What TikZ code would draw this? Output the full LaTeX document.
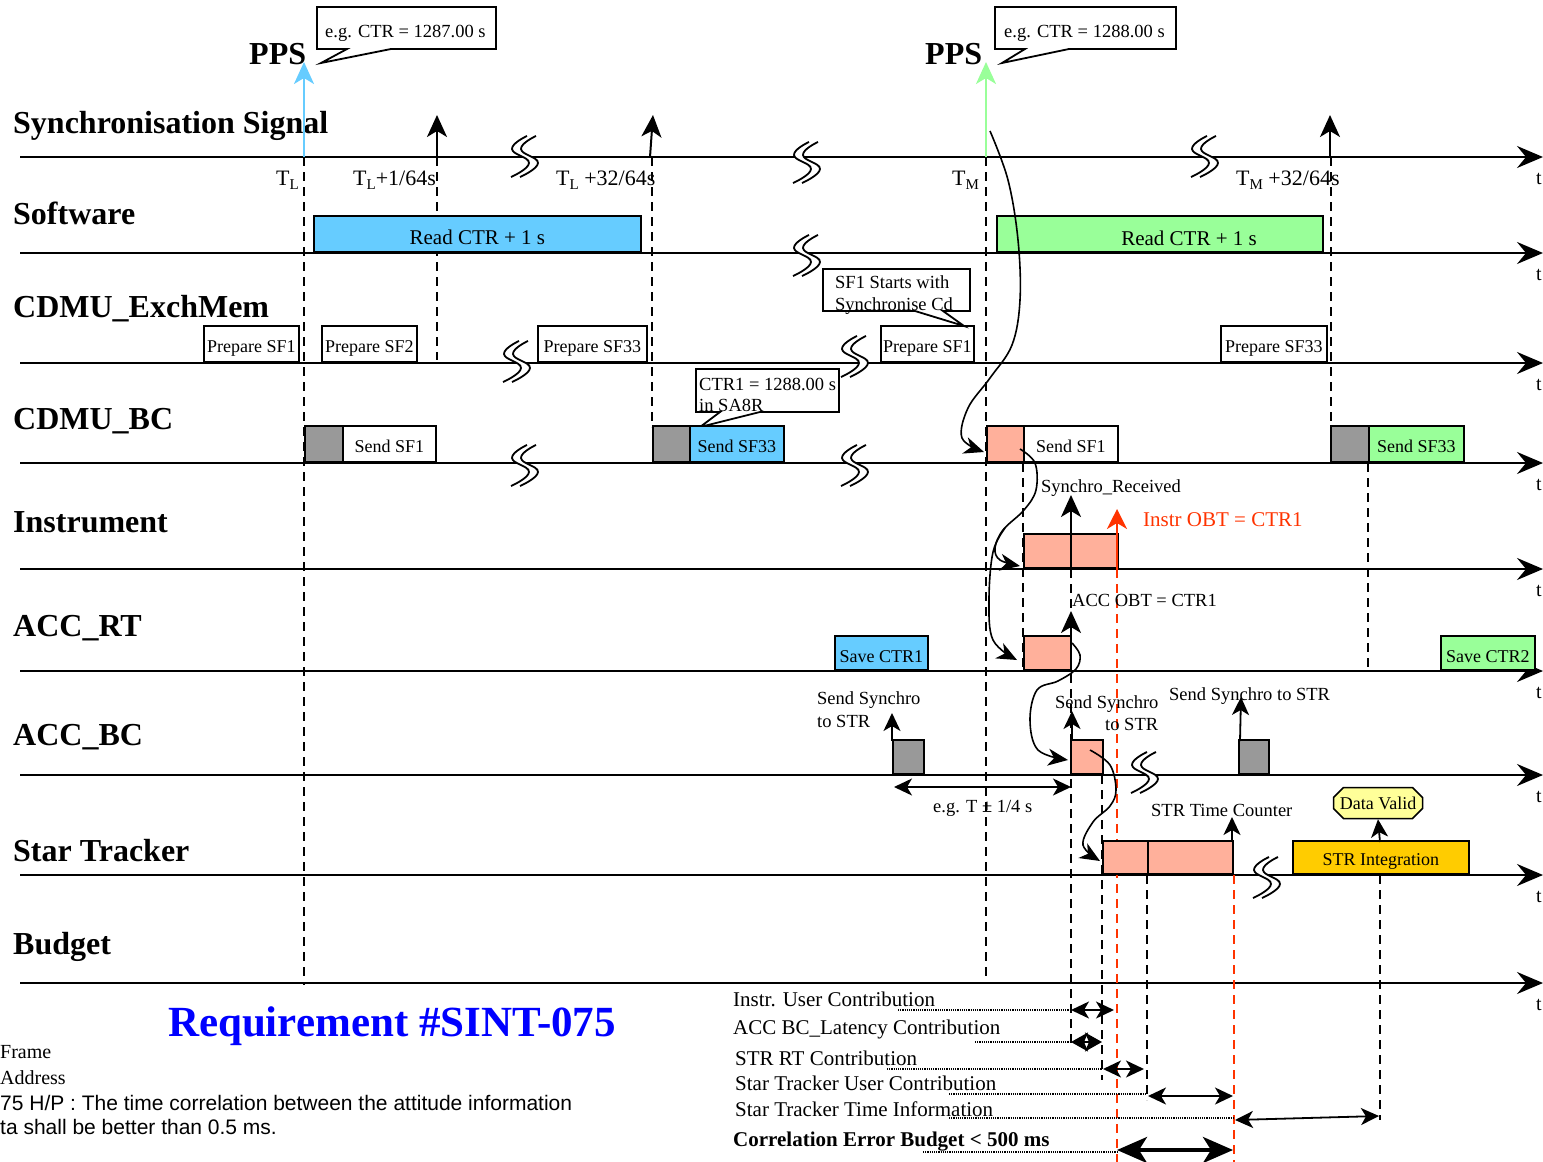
\documentclass[tikz,border=0pt]{standalone}
\usepackage{fontspec}
\setmainfont{Liberation Serif}
\newfontfamily\arialf{Liberation Sans}
\usetikzlibrary{arrows.meta,shapes.misc}
\definecolor{lblue}{HTML}{66CCFF}
\definecolor{lgreen}{HTML}{99FF99}
\definecolor{salm}{HTML}{FFB09B}
\definecolor{gbox}{HTML}{999999}
\definecolor{strint}{HTML}{FFCC00}
\definecolor{dvalid}{HTML}{FFFF99}
\definecolor{redl}{HTML}{FF3300}
\definecolor{reqblue}{HTML}{0000FF}
\newcommand{\lsub}[1]{\raisebox{-4pt}{\fontsize{15}{15}\selectfont #1}}
\tikzset{
  axisln/.style={line width=2pt,-{Stealth[length=26pt,width=22pt,inset=9pt]}},
  lanelab/.style={font=\fontsize{32}{36}\selectfont\bfseries, anchor=base west, inner sep=0},
  tlab/.style={font=\fontsize{20}{22}\selectfont, anchor=base west, inner sep=0},
  tmark/.style={font=\fontsize{22}{24}\selectfont, anchor=base west, inner sep=0},
  txt/.style={font=\fontsize{18.5}{21}\selectfont, anchor=base west, inner sep=0},
  btxt/.style={font=\fontsize{21}{24}\selectfont, anchor=base west, inner sep=0},
  bx/.style={draw, line width=1.8pt, inner sep=0, anchor=south west, font=\fontsize{18}{20}\selectfont, minimum height=36pt, text height=17pt, text depth=0pt},
  sarr/.style={line width=2pt,-{Stealth[length=22pt,width=20pt,inset=6pt]}},
  marr/.style={line width=1.8pt,-{Stealth[length=18pt,width=17pt,inset=5pt]}},
  darr/.style={line width=1.8pt,{Stealth[length=18pt,width=17pt,inset=5pt]}-{Stealth[length=18pt,width=17pt,inset=5pt]}},
  dsh/.style={line width=1.6pt, dash pattern=on 9pt off 6pt},
  rdsh/.style={line width=1.6pt, dash pattern=on 9pt off 6pt, draw=redl},
  curv/.style={line width=1.6pt,-{Stealth[length=20pt,width=17pt,inset=6pt]}},
  lead/.style={line width=1.2pt, densely dotted},
  callout/.style={draw, line width=1.8pt, fill=white, line join=miter},
  brk/.pic={
    \fill[white] plot[smooth,tension=0.8] coordinates {(4,-21) (-11,-8) (6,6) (-12,20)} -- plot[smooth,tension=0.8] coordinates {(-3,20) (15,6) (-2,-8) (13,-21)} -- cycle;
    \draw[line width=1.8pt] plot[smooth,tension=0.8] coordinates {(4,-21) (-11,-8) (6,6) (-12,20)};
    \draw[line width=1.8pt] plot[smooth,tension=0.8] coordinates {(13,-21) (-2,-8) (15,6) (-3,20)};
  }
}
\begin{document}
\begin{tikzpicture}[x=1pt,y=-1pt]
\useasboundingbox (0,0) rectangle (1543,1162);

% ---------- axes ----------
\foreach \n/\y in {ax1/157,ax2/253,ax3/363,ax4/463,ax5/569,ax6/671,ax7/775,ax8/875,ax9/983}{
  \coordinate (\n s) at (20,\y);
  \coordinate (\n e) at (1543,\y);
  \draw[axisln] (\n s) -- (\n e);
  \node[tlab] (\n t) at (1536,\y+27) {t};
}

% ---------- lane labels ----------
\node[lanelab] (l1) at (13,133) {Synchronisation Signal};
\node[lanelab] (l2) at (13,224) {Software};
\node[lanelab] (l3) at (13,317) {CDMU\_ExchMem};
\node[lanelab] (l4) at (13,429) {CDMU\_BC};
\node[lanelab] (l5) at (13,532) {Instrument};
\node[lanelab] (l6) at (13,636) {ACC\_RT};
\node[lanelab] (l7) at (13,745) {ACC\_BC};
\node[lanelab] (l8) at (13,861) {Star Tracker};
\node[lanelab] (l9) at (13,954) {Budget};

% ---------- break symbols ----------
\pic at (523,157) {brk};
\pic at (805,163) {brk};
\pic at (1203,157) {brk};
\pic at (805,256) {brk};
\pic at (515,362) {brk};
\pic at (853,357) {brk};
\pic at (523,466) {brk};
\pic at (853,466) {brk};
\pic at (1143,773) {brk};
\pic at (1265,878) {brk};

% ---------- dashed verticals ----------
\coordinate (d1a) at (304,157); \coordinate (d1b) at (304,985);
\coordinate (d2a) at (437,157); \coordinate (d2b) at (437,360);
\coordinate (d3a) at (652,157); \coordinate (d3b) at (652,427);
\coordinate (d4a) at (986,157); \coordinate (d4b) at (986,983);
\coordinate (d5a) at (1331,157); \coordinate (d5b) at (1331,427);
\coordinate (d6a) at (1023,463); \coordinate (d6b) at (1023,671);
\coordinate (d7a) at (1071,569); \coordinate (d7b) at (1071,1047);
\coordinate (d8a) at (1102,775); \coordinate (d8b) at (1102,1080);
\coordinate (d9a) at (1147,875); \coordinate (d9b) at (1147,1100);
\coordinate (d10a) at (1368,463); \coordinate (d10b) at (1368,671);
\coordinate (d11a) at (1380,875); \coordinate (d11b) at (1380,1120);
\foreach \d in {d1,d2,d3,d4,d5,d6,d7,d8,d9,d10,d11}{\draw[dsh] (\d a) -- (\d b);}
\coordinate (r1a) at (1117,569); \coordinate (r1b) at (1117,1162);
\coordinate (r2a) at (1234,875); \coordinate (r2b) at (1234,1162);
\draw[rdsh] (r1a) -- (r1b);
\draw[rdsh] (r2a) -- (r2b);

% ---------- PPS ----------
\node[font=\fontsize{32}{36}\selectfont\bfseries, anchor=base west, inner sep=0] (pps1) at (249,64) {PPS};
\node[font=\fontsize{32}{36}\selectfont\bfseries, anchor=base west, inner sep=0] (pps2) at (925,64) {PPS};
\coordinate (p1b) at (304,157); \coordinate (p1t) at (304,62);
\coordinate (p2b) at (986,157); \coordinate (p2t) at (986,62);
\draw[line width=2pt, lblue, -{Stealth[length=22pt,width=20pt,inset=6pt]}] (p1b) -- (p1t);
\draw[line width=2pt, lgreen, -{Stealth[length=22pt,width=20pt,inset=6pt]}] (p2b) -- (p2t);

% callouts
\draw[callout] (317,7) -- (496,7) -- (496,49) -- (391,49) -- (321,63) -- (347,49) -- (317,49) -- cycle;
\node[txt] (c1) at (325,37) {e.g. CTR = 1287.00 s};
\draw[callout] (995,7) -- (1176,7) -- (1176,49) -- (1069,49) -- (1002,63) -- (1025,49) -- (995,49) -- cycle;
\node[txt] (c2) at (1004,37) {e.g. CTR = 1288.00 s};

% ---------- sync arrows & T labels ----------
\coordinate (u1b) at (437,157); \coordinate (u1t) at (437,115);
\coordinate (u2b) at (650,157); \coordinate (u2t) at (653,115);
\coordinate (u3b) at (1330,157); \coordinate (u3t) at (1330,115);
\draw[sarr] (u1b) -- (u1t);
\draw[sarr] (u2b) -- (u2t);
\draw[sarr] (u3b) -- (u3t);
\node[tmark] (tl0) at (276,185) {T\lsub{L}};
\node[tmark] (tl1) at (353,185) {T\lsub{L}+1/64s};
\node[tmark] (tl2) at (556,185) {T\lsub{L} +32/64s};
\node[tmark] (tm0) at (952,185) {T\lsub{M}};
\node[tmark] (tm1) at (1236,185) {T\lsub{M} +32/64s};

% ---------- Software ----------
\node[bx, fill=lblue, minimum width=327pt, font=\fontsize{21}{24}\selectfont, text height=21pt] (sw1) at (313,253) {Read CTR + 1 s};
\node[bx, fill=lgreen, minimum width=326pt] (sw2) at (996,253) {};
\node[font=\fontsize{21}{24}\selectfont, anchor=base, inner sep=0] (sw2t) at (1189,245) {Read CTR + 1 s};

% ---------- CDMU_ExchMem ----------
\node[bx, fill=white, minimum width=95pt] (ex1) at (203,363) {Prepare SF1};
\node[bx, fill=white, minimum width=95pt] (ex2) at (321,363) {Prepare SF2};
\node[bx, fill=white, minimum width=109pt] (ex3) at (537,363) {Prepare SF33};
\node[bx, fill=white, minimum width=93pt] (ex4) at (880,363) {Prepare SF1};
\node[bx, fill=white, minimum width=106pt] (ex5) at (1220,363) {Prepare SF33};

\draw[callout] (823,269) -- (970,269) -- (970,311) -- (943,311) -- (964,326) -- (915,311) -- (823,311) -- cycle;
\node[txt] (sf1a) at (835,288) {SF1 Starts with};
\node[txt] (sf1b) at (835,310) {Synchronise Cd};

\draw[callout] (696,369) -- (839,369) -- (839,412) -- (760,412) -- (700,427) -- (720,412) -- (696,412) -- cycle;
\node[txt] (ct1a) at (699,390) {CTR1 = 1288.00 s};
\node[txt] (ct1b) at (699,411) {in SA8R};

% ---------- CDMU_BC ----------
\node[bx, fill=gbox, minimum width=38pt] (bc1) at (304,463) {};
\node[bx, fill=white, minimum width=93pt] (bc2) at (342,463) {Send SF1};
\node[bx, fill=gbox, minimum width=37pt] (bc3) at (652,463) {};
\node[bx, fill=lblue, minimum width=94pt] (bc4) at (689,463) {Send SF33};
\node[bx, fill=salm, minimum width=37pt] (bc5) at (986,463) {};
\node[bx, fill=white, minimum width=94pt] (bc6) at (1023,463) {Send SF1};
\node[bx, fill=gbox, minimum width=38pt] (bc7) at (1330,463) {};
\node[bx, fill=lgreen, minimum width=95pt] (bc8) at (1368,463) {Send SF33};

% ---------- Instrument ----------
\node[bx, fill=salm, minimum width=47pt, minimum height=34pt] (in1) at (1023,569) {};
\node[bx, fill=salm, minimum width=47pt, minimum height=34pt] (in2) at (1070,569) {};
\coordinate (ia1) at (1071,569); \coordinate (ia2) at (1071,495);
\draw[sarr] (ia1) -- (ia2);
\coordinate (ir1) at (1117,569); \coordinate (ir2) at (1117,509);
\draw[line width=2pt, redl, -{Stealth[length=20pt,width=20pt,inset=6pt]}] (ir1) -- (ir2);
\node[txt] (synrec) at (1041,492) {Synchro\_Received};
\node[font=\fontsize{21}{24}\selectfont, anchor=base west, inner sep=0, text=redl] (iobt) at (1143,526) {Instr OBT = CTR1};

% ---------- ACC_RT ----------
\node[bx, fill=lblue, minimum width=93pt, minimum height=34pt, text height=18pt] (rt1) at (834,671) {Save CTR1};
\node[bx, fill=salm, minimum width=47pt, minimum height=34pt] (rt2) at (1023,671) {};
\node[bx, fill=lgreen, minimum width=94pt, minimum height=34pt, text height=18pt] (rt3) at (1440,671) {Save CTR2};
\coordinate (ra1) at (1071,671); \coordinate (ra2) at (1071,611);
\draw[sarr] (ra1) -- (ra2);
\node[txt] (accobt) at (1072,606) {ACC OBT = CTR1};

% ---------- ACC_BC ----------
\node[bx, fill=gbox, minimum width=31pt, minimum height=34pt] (ab1) at (892,775) {};
\node[bx, fill=salm, minimum width=32pt, minimum height=34pt] (ab2) at (1070,775) {};
\node[bx, fill=gbox, minimum width=30pt, minimum height=34pt] (ab3) at (1238,775) {};
\coordinate (aa1) at (892,741); \coordinate (aa2) at (892,713);
\coordinate (ab1a) at (1072,741); \coordinate (ab2a) at (1072,711);
\coordinate (ac1) at (1240,741); \coordinate (ac2) at (1241,697);
\draw[marr] (aa1) -- (aa2);
\draw[marr] (ab1a) -- (ab2a);
\draw[marr] (ac1) -- (ac2);
\node[txt] (ss1a) at (817,704) {Send Synchro};
\node[txt] (ss1b) at (817,727) {to STR};
\node[txt] (ss2a) at (1055,708) {Send Synchro};
\node[txt] (ss2b) at (1105,730) {to STR};
\node[txt] (ss3) at (1169,700) {Send Synchro to STR};
\coordinate (tt1) at (894,787); \coordinate (tt2) at (1071,787);
\draw[darr] (tt1) -- (tt2);
\node[txt] (tpm) at (933,812) {e.g. T ± 1/4 s};

% ---------- Star Tracker ----------
\node[bx, fill=salm, minimum width=45pt, minimum height=33pt] (st1) at (1102,875) {};
\node[bx, fill=salm, minimum width=85pt, minimum height=33pt] (st2) at (1147,875) {};
\node[bx, fill=strint, minimum width=176pt, minimum height=33pt, text height=16pt] (st3) at (1292,875) {STR Integration};
\node[chamfered rectangle, chamfered rectangle xsep=5pt, chamfered rectangle ysep=5pt, draw, line width=1.5pt, fill=dvalid, inner sep=1pt, minimum width=89pt, minimum height=31pt, font=\fontsize{18}{20}\selectfont] (dv) at (1378,803) {Data Valid};
\coordinate (sa1) at (1232,842); \coordinate (sa2) at (1232,817);
\draw[marr] (sa1) -- (sa2);
\coordinate (dva1) at (1380,842);
\draw[marr] (dva1) -- (dv.south);
\node[txt] (stc) at (1151,816) {STR Time Counter};

% ---------- curved connectors ----------
\draw[curv] plot[smooth,tension=0.6] coordinates {(990,131) (1008,180) (1018,240) (1020,300) (1012,345) (990,378) (968,408) (962,438) (984,452)};
\draw[curv] plot[smooth,tension=0.6] coordinates {(1020,449) (1035,463) (1036,490) (1024,510) (1003,530) (995,548) (1000,560) (1020,566)};
\draw[curv] plot[smooth,tension=0.6] coordinates {(1005,528) (993,552) (989,600) (993,640) (1017,660)};
\draw[curv] plot[smooth,tension=0.6] coordinates {(1072,643) (1080,655) (1076,669) (1058,681) (1037,690) (1030,720) (1038,750) (1068,760)};
\draw[curv] plot[smooth,tension=0.6] coordinates {(1090,750) (1110,765) (1116,790) (1110,806) (1093,822) (1083,845) (1100,861)};

% ---------- Budget ----------
\node[btxt] (bl1) at (733,1006) {Instr. User Contribution};
\node[btxt] (bl2) at (733,1034) {ACC BC\_Latency Contribution};
\node[btxt] (bl3) at (735,1065) {STR RT Contribution};
\node[btxt] (bl4) at (735,1090) {Star Tracker User Contribution};
\node[btxt] (bl5) at (735,1116) {Star Tracker Time Information};
\node[btxt, font=\fontsize{21}{24}\selectfont\bfseries] (bl6) at (733,1146) {Correlation Error Budget < 500 ms};

\coordinate (q1a) at (898,1010); \coordinate (q1b) at (1071,1010);
\coordinate (q2a) at (975,1042); \coordinate (q2b) at (1071,1042);
\coordinate (q3a) at (887,1069); \coordinate (q3b) at (1102,1069);
\coordinate (q4a) at (949,1094); \coordinate (q4b) at (1147,1094);
\coordinate (q5a) at (949,1118); \coordinate (q5b) at (1234,1118);
\coordinate (q6a) at (923,1152); \coordinate (q6b) at (1117,1152);
\foreach \q in {q1,q2,q3,q4,q5,q6}{\draw[lead] (\q a) -- (\q b);}

\coordinate (e1a) at (1071,1010); \coordinate (e1b) at (1114,1010);
\coordinate (e2a) at (1071,1042); \coordinate (e2b) at (1102,1042);
\coordinate (e3a) at (1103,1069); \coordinate (e3b) at (1144,1069);
\coordinate (e4a) at (1148,1096); \coordinate (e4b) at (1233,1096);
\coordinate (e5a) at (1235,1120); \coordinate (e5b) at (1379,1116);
\coordinate (e6a) at (1117,1150); \coordinate (e6b) at (1233,1150);
\draw[darr] (e1a) -- (e1b);
\draw[line width=1.8pt,{Stealth[length=17pt,width=19pt,inset=4pt]}-{Stealth[length=17pt,width=19pt,inset=4pt]}] (e2a) -- (e2b);
\draw[darr] (e3a) -- (e3b);
\draw[darr] (e4a) -- (e4b);
\draw[darr] (e5a) -- (e5b);
\draw[line width=4pt,{Stealth[length=30pt,width=26pt,inset=8pt]}-{Stealth[length=30pt,width=26pt,inset=8pt]}] (e6a) -- (e6b);

% ---------- requirement ----------
\node[font=\fontsize{43}{48}\selectfont\bfseries, text=reqblue, inner sep=0] (req) at (392,1026) {Requirement \#SINT-075};
\node[font=\fontsize{20}{22}\selectfont, anchor=base west, inner sep=0] (fr) at (0,1058) {Frame};
\node[font=\fontsize{20}{22}\selectfont, anchor=base west, inner sep=0] (ad) at (0,1084) {Address};
\node[font=\fontsize{21}{23}\arialf, anchor=base west, inner sep=0] (rq1) at (0,1110) {75 H/P : The time correlation between the attitude information};
\node[font=\fontsize{21}{23}\arialf, anchor=base west, inner sep=0] (rq2) at (0,1134) {ta shall be better than 0.5 ms.};
\end{tikzpicture}
\end{document}
